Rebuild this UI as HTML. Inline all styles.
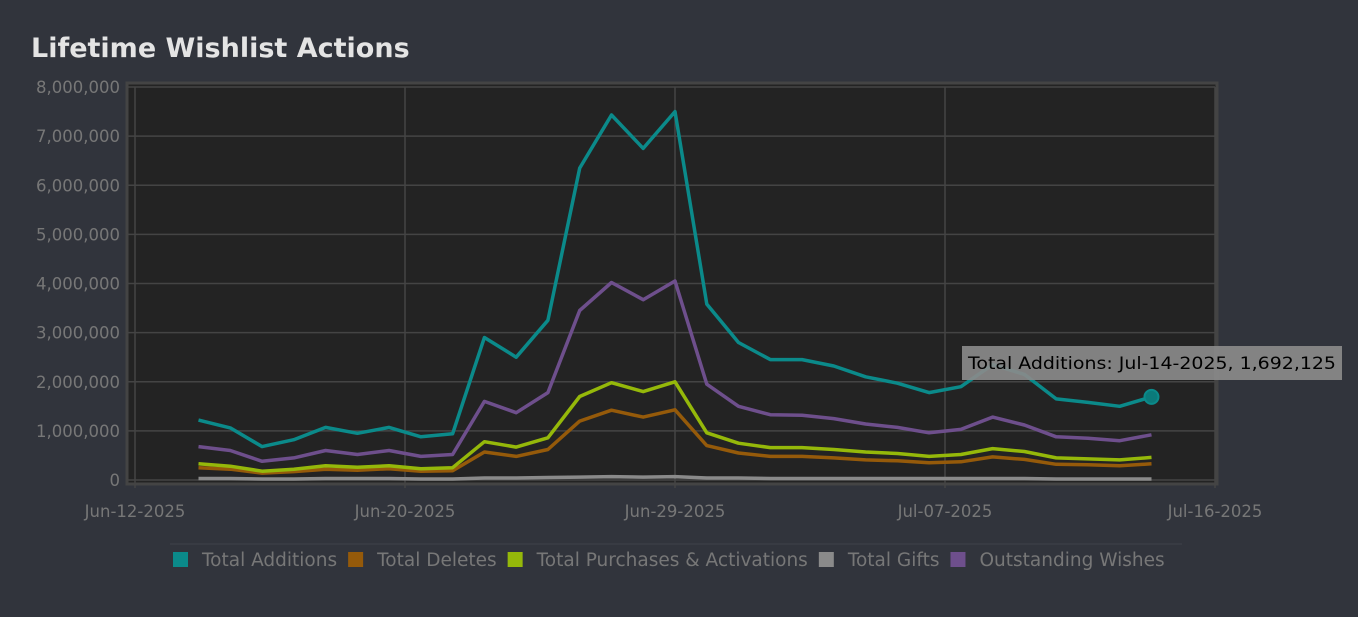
<!DOCTYPE html>
<html><head><meta charset="utf-8"><style>
body{margin:0;background:#31343c;width:1358px;height:617px;overflow:hidden;font-family:"DejaVu Sans","Liberation Sans",sans-serif}
h1{position:absolute;left:31px;top:33px;margin:0;font-size:27px;font-weight:bold;color:#e4e4e4;font-family:"DejaVu Sans","Liberation Sans",sans-serif}
</style></head><body>
<h1>Lifetime Wishlist Actions</h1>
<svg id="c" width="1358" height="617" style="position:absolute;left:0;top:0"></svg>
<script>
const startDay = 2; // Jun-14 relative to Jun-12
const additions = [1.22,1.06,0.68,0.82,1.07,0.95,1.07,0.88,0.94,2.9,2.5,3.25,6.35,7.43,6.75,7.5,3.58,2.8,2.45,2.45,2.32,2.1,1.97,1.78,1.9,2.35,2.15,1.65,1.58,1.5,1.692125];
const deletes = [0.25,0.22,0.14,0.17,0.22,0.2,0.23,0.18,0.19,0.57,0.48,0.62,1.2,1.42,1.28,1.43,0.7,0.55,0.48,0.48,0.45,0.41,0.39,0.35,0.37,0.47,0.42,0.32,0.31,0.29,0.33];
const purchases = [0.33,0.28,0.18,0.22,0.29,0.26,0.29,0.23,0.25,0.78,0.67,0.86,1.7,1.98,1.8,2.0,0.96,0.75,0.66,0.66,0.62,0.57,0.54,0.48,0.52,0.64,0.58,0.45,0.43,0.41,0.46];
const gifts = [0.03,0.03,0.02,0.02,0.03,0.03,0.03,0.02,0.02,0.04,0.04,0.05,0.06,0.07,0.06,0.07,0.04,0.04,0.03,0.03,0.03,0.03,0.03,0.03,0.03,0.03,0.03,0.02,0.02,0.02,0.02];
const outstanding = [0.68,0.6,0.38,0.45,0.6,0.52,0.6,0.48,0.52,1.6,1.37,1.78,3.45,4.02,3.67,4.05,1.95,1.5,1.33,1.32,1.25,1.14,1.07,0.96,1.03,1.28,1.12,0.88,0.85,0.8,0.92];
const yTicks = ["0","1,000,000","2,000,000","3,000,000","4,000,000","5,000,000","6,000,000","7,000,000","8,000,000"];
const xTickLabels = ["Jun-12-2025","Jun-20-2025","Jun-29-2025","Jul-07-2025","Jul-16-2025"];
const seriesNames = ["Total Additions","Total Deletes","Total Purchases & Activations","Total Gifts","Outstanding Wishes"];
const seriesColors = ["#0b8a8a","#955a0a","#95b80a","#8a8a8a","#6e4f8c"];

const L=135,R=1215,T=87,B=480,NS="http://www.w3.org/2000/svg";
const svg=document.getElementById('c');
const xs=d=>L+(d)*(R-L)/34;
const ys=v=>B-v/8*(B-T);
function mk(t,a,p){const e=document.createElementNS(NS,t);for(const k in a)e.setAttribute(k,a[k]);(p||svg).appendChild(e);return e;}
const bg=mk('rect',{x:127,y:83,width:1090,height:401,fill:'#232323',stroke:'#444',"stroke-width":3});


yTicks.forEach((t,i)=>{const y=ys(i);
 mk('line',{x1:L-8,x2:R,y1:y,y2:y,stroke:'#444',"stroke-width":1.5});
 const tx=mk('text',{x:120,y:y+6,"text-anchor":"end",fill:'#777',"font-size":16.5});tx.textContent=t;
 
 
});
xTickLabels.forEach((t,i)=>{const x=xs(i*8.5);
 mk('line',{x1:x,x2:x,y1:T,y2:B+8,stroke:'#444',"stroke-width":1.5});
 const tx=mk('text',{x:x,y:517,"text-anchor":"middle",fill:'#777',"font-size":16.5});tx.textContent=t;
 
 
});
const all=[additions,deletes,purchases,gifts,outstanding];
[3,1,2,4,0].forEach(si=>{
 const d=all[si].map((v,i)=>(i?'L':'M')+xs(startDay+i).toFixed(1)+','+ys(v).toFixed(1)).join('');
 const p=mk('path',{d:d,fill:'none',stroke:seriesColors[si],"stroke-width":3.5,"stroke-linejoin":"round"});
 
 
});
const li=additions.length-1;
const dot=mk('circle',{cx:xs(startDay+li),cy:ys(additions[li]),r:7,fill:'#0b7a7a',stroke:'#0b8a8a',"stroke-width":2});


const tg=mk('g',{});


mk('rect',{x:962,y:346,width:380,height:34,fill:'#8a8a8a',opacity:0.92},tg);
const tt=mk('text',{x:968,y:369,fill:'#000',"font-size":16.5,textLength:368,lengthAdjust:"spacingAndGlyphs"},tg);
tt.textContent="Total Additions: Jul-14-2025, 1,692,125";
mk('line',{x1:170,x2:1182,y1:544,y2:544,stroke:'#3f424a',"stroke-width":1});
let lx=173;
const gap=(1176-173);
seriesNames.forEach((n,i)=>{
 const g=mk('g',{});
 
 
 mk('rect',{x:lx,y:552,width:15,height:15,fill:seriesColors[i]},g);
 const t=mk('text',{x:lx+29,y:566,fill:'#777',"font-size":18.5},g);t.textContent=n;
 lx+=29+t.getComputedTextLength()+11;
});
</script>
</body></html>
